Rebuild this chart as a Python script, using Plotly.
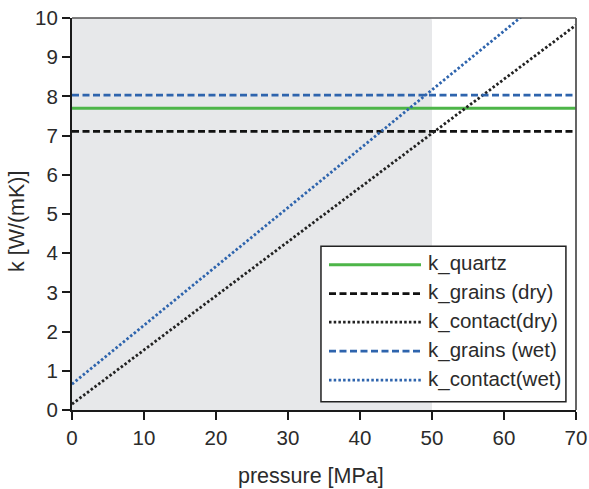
import plotly.graph_objects as go

# Pressure range (MPa) and conductivity values (W/(mK))
pressure = [0, 70]
k_quartz = [7.70, 7.70]
k_grains_dry = [7.11, 7.11]
k_contact_dry = [0.15, 9.82]
k_grains_wet = [8.03, 8.03]
k_contact_wet = [0.66, 11.17]

shade_end = 50  # shaded pressure window [0, 50] MPa

series = [
    ("k_quartz", k_quartz, "#4db548", "solid"),
    ("k_grains (dry)", k_grains_dry, "#111111", "7px,3.5px"),
    ("k_contact(dry)", k_contact_dry, "#222222", "2.5px,2.2px"),
    ("k_grains (wet)", k_grains_wet, "#2e64ad", "7px,3.5px"),
    ("k_contact(wet)", k_contact_wet, "#2e64ad", "2.5px,2.2px"),
]

FONT = "Liberation Sans, Arial, sans-serif"
TXT = "#2b2b2b"

fig = go.Figure()
for name, y, color, dash in series:
    fig.add_trace(go.Scatter(
        x=pressure, y=y, mode="lines", name=name, showlegend=False,
        line=dict(color=color, width=2.8 if dash != "solid" else 3, dash=dash),
    ))

# shaded pressure window with slightly rounded top-right corner
fig.add_shape(
    type="path", xref="x", yref="y", layer="below",
    path=f"M 0,0 L 0,10 L {shade_end-0.45},10 Q {shade_end},10 {shade_end},9.92 L {shade_end},0 Z",
    fillcolor="#e7e8ea", line=dict(width=0),
)

# frame: top and right edges
fig.add_shape(type="line", xref="paper", yref="paper", x0=0, x1=1, y0=1, y1=1,
              line=dict(color="#555555", width=1.5))
fig.add_shape(type="line", xref="paper", yref="paper", x0=1, x1=1, y0=0, y1=1,
              line=dict(color="#555555", width=1.8))

# legend box
lx0, lx1, ly0, ly1 = 0.494, 0.980, 0.021, 0.418
fig.add_shape(type="rect", xref="paper", yref="paper", x0=lx0, x1=lx1, y0=ly0, y1=ly1,
              fillcolor="white", line=dict(color="#222222", width=1.5))
entry_px = [18.5, 47.5, 76, 105, 134]  # px below legend top
for (name, y, color, dash), off in zip(series, entry_px):
    yy = ly1 - off / 392
    fig.add_shape(type="line", xref="paper", yref="paper",
                  x0=(329 - 72) / 504, x1=(421 - 72) / 504, y0=yy, y1=yy,
                  line=dict(color=color, width=2.8 if dash != "solid" else 3, dash=dash))
    fig.add_annotation(xref="paper", yref="paper", x=(426 - 72) / 504, y=yy + 1.5 / 392,
                       text=name, showarrow=False, xanchor="left", yanchor="middle",
                       font=dict(family=FONT, size=20.5, color=TXT))

# axis titles
fig.add_annotation(xref="paper", yref="paper", x=(311 - 72) / 504, y=-(476 - 410) / 392,
                   text="pressure [MPa]", showarrow=False, xanchor="center", yanchor="middle",
                   font=dict(family=FONT, size=21.5, color=TXT))
fig.add_annotation(xref="paper", yref="paper", x=-(72 - 17) / 504, y=(410 - 221) / 392,
                   text="k [W/(mK)]", showarrow=False, textangle=-90,
                   xanchor="center", yanchor="middle",
                   font=dict(family=FONT, size=21.5, color=TXT))

axis_common = dict(
    showgrid=False, zeroline=False, showline=True, linecolor="#1a1a1a", linewidth=2,
    ticks="outside", ticklen=8, tickwidth=2, tickcolor="#1a1a1a", automargin=False,
    tickfont=dict(family=FONT, size=20.5, color=TXT),
)
fig.update_xaxes(range=[0, 70], tickvals=list(range(0, 71, 10)), **axis_common)
fig.update_yaxes(range=[0, 10], tickvals=list(range(0, 11)), **axis_common)

fig.update_layout(
    width=589, height=489,
    margin=dict(l=72, r=13, t=18, b=79),
    paper_bgcolor="white", plot_bgcolor="white",
    showlegend=False,
)

fig.write_html("out.html")
